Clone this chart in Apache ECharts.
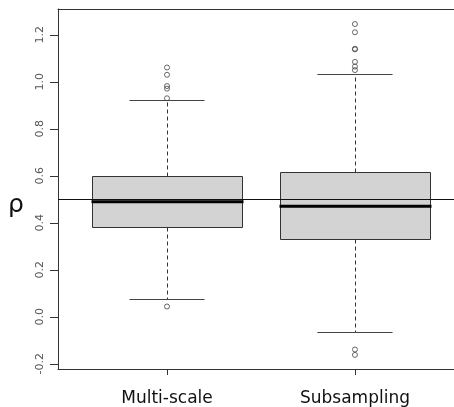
<!DOCTYPE html>
<html>
<head>
<meta charset="utf-8">
<script src="https://cdn.jsdelivr.net/npm/echarts@6/dist/echarts.min.js"></script>
<style>html,body{margin:0;padding:0;background:#fff;}#c{width:454px;height:407px;}</style>
</head>
<body>
<div id="c"></div>
<script>
// ---- data ----
var categories = ['Multi-scale', 'Subsampling'];
// [min whisker, Q1, median, Q3, max whisker]
var multiScaleBox = [0.074, 0.384, 0.490, 0.601, 0.922];
var subsamplingBox = [-0.065, 0.332, 0.471, 0.617, 1.033];
var multiScaleOutliers = [1.061, 1.030, 0.982, 0.971, 0.930, 0.044];
var subsamplingOutliers = [1.246, 1.211, 1.141, 1.138, 1.085, 1.065, 1.050, -0.139, -0.162];
var yTicks = [-0.2, 0.0, 0.2, 0.4, 0.6, 0.8, 1.0, 1.2];
var xTicks = [1, 2];
var refLine = 0.5;

var boxes = [multiScaleBox, subsamplingBox];
var outliers = [multiScaleOutliers, subsamplingOutliers];

var BOX_HALF = 0.4, CAP_HALF = 0.2;

var boxData = boxes.map(function (b, i) { return [i + 1].concat(b); });
var outlierData = [];
outliers.forEach(function (arr, i) { arr.forEach(function (v) { outlierData.push([i + 1, v]); }); });

var chart = echarts.init(document.getElementById('c'), null, { renderer: 'canvas' });

function renderBox(params, api) {
  var x = api.value(0);
  var lo = api.value(1), q1 = api.value(2), med = api.value(3), q3 = api.value(4), hi = api.value(5);
  var pL = api.coord([x - BOX_HALF, q3]);
  var pR = api.coord([x + BOX_HALF, q1]);
  var cL = api.coord([x - CAP_HALF, hi])[0];
  var cR = api.coord([x + CAP_HALF, hi])[0];
  var cx = Math.round(api.coord([x, med])[0]) + 0.5;
  var yHi = Math.round(api.coord([x, hi])[1]) + 0.5;
  var yLo = Math.round(api.coord([x, lo])[1]) + 0.5;
  var yQ3 = Math.round(pL[1]) + 0.5;
  var yQ1 = Math.round(pR[1]) + 0.5;
  var yMed = api.coord([x, med])[1];
  var xl = Math.round(pL[0]) + 0.5, xr = Math.round(pR[0]) + 0.5;
  var dash = { stroke: '#333', lineWidth: 1, lineDash: [4, 3] };
  var cap = { stroke: '#444', lineWidth: 1.2 };
  return {
    type: 'group',
    children: [
      { type: 'line', shape: { x1: cx, y1: yQ3, x2: cx, y2: yHi }, style: dash },
      { type: 'line', shape: { x1: cx, y1: yQ1, x2: cx, y2: yLo }, style: dash },
      { type: 'line', shape: { x1: cL, y1: yHi, x2: cR, y2: yHi }, style: cap },
      { type: 'line', shape: { x1: cL, y1: yLo, x2: cR, y2: yLo }, style: cap },
      { type: 'rect', shape: { x: xl, y: yQ3, width: xr - xl, height: yQ1 - yQ3 },
        style: { fill: '#d3d3d3', stroke: '#333', lineWidth: 1 } },
      { type: 'line', shape: { x1: xl - 1, y1: yMed, x2: xr + 1, y2: yMed },
        style: { stroke: '#000', lineWidth: 3 } }
    ]
  };
}

chart.setOption({
  animation: false,
  backgroundColor: '#fff',
  grid: { left: 58, top: 9, right: 0, height: 363, show: false },
  xAxis: [{
    type: 'value', min: 0.42, max: 2.527,
    splitLine: { show: false },
    axisLine: { show: true, onZero: false, lineStyle: { color: '#333', width: 1 } },
    axisTick: { show: true, length: 6, lineStyle: { color: '#333' }, customValues: xTicks },
    axisLabel: {
      customValues: xTicks, margin: 21,
      formatter: function (v) { return categories[Math.round(v) - 1] || ''; },
      fontFamily: 'DejaVu Sans', fontSize: 17, color: '#111'
    }
  }, {
    type: 'value', min: 0.42, max: 2.527, position: 'top',
    splitLine: { show: false },
    axisLine: { show: true, onZero: false, lineStyle: { color: '#333', width: 1 } },
    axisTick: { show: false }, axisLabel: { show: false }
  }],
  yAxis: {
    type: 'value', min: -0.222, max: 1.31,
    splitLine: { show: false },
    axisLine: { show: true, onZero: false, lineStyle: { color: '#333', width: 1 } },
    axisTick: { show: true, length: 8, lineStyle: { color: '#333' }, customValues: yTicks },
    axisLabel: {
      customValues: yTicks, rotate: 90, margin: 12,
      formatter: function (v) { return v.toFixed(1); },
      fontFamily: 'DejaVu Sans', fontSize: 11, color: '#555'
    }
  },
  graphic: [{
    type: 'text', left: 8, top: 193,
    style: { text: 'ρ', fontFamily: 'DejaVu Sans', fontSize: 25, fill: '#111' }
  }],
  series: [
    {
      type: 'custom', renderItem: renderBox, data: boxData, z: 2,
      encode: { x: 0, y: [1, 2, 3, 4, 5] },
      markLine: {
        silent: true, symbol: 'none', label: { show: false },
        lineStyle: { color: '#111', width: 1, type: 'solid' },
        data: [{ yAxis: refLine }]
      }
    },
    {
      type: 'scatter', data: outlierData, symbol: 'circle', symbolSize: 5, z: 3,
      itemStyle: { color: 'transparent', borderColor: '#444', borderWidth: 1 }
    }
  ]
});
</script>
</body>
</html>
